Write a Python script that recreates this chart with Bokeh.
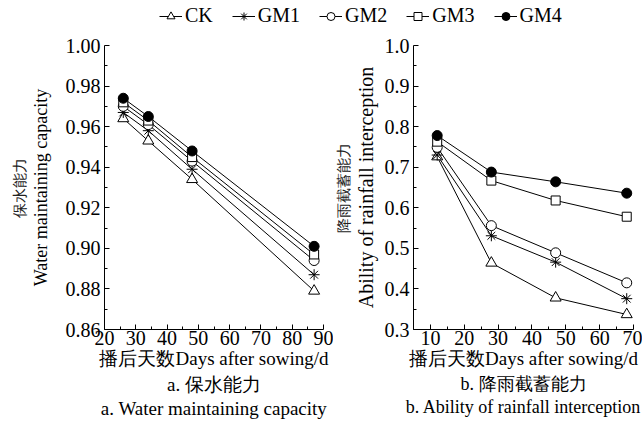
from bokeh.plotting import figure
from bokeh.layouts import column, row
from bokeh.models import FixedTicker, Title, Legend, LegendItem
from bokeh.embed import file_html
from bokeh.resources import INLINE

# ---------------- data ----------------
series = ["CK", "GM1", "GM2", "GM3", "GM4"]

days_a = [26, 34, 48, 87]
water_ck = [0.964, 0.953, 0.934, 0.879]
water_gm1 = [0.967, 0.958, 0.939, 0.887]
water_gm2 = [0.970, 0.961, 0.943, 0.894]
water_gm3 = [0.972, 0.963, 0.945, 0.897]
water_gm4 = [0.974, 0.965, 0.948, 0.901]

days_b = [12, 28, 47, 68]
rain_ck = [0.726, 0.464, 0.378, 0.337]
rain_gm1 = [0.730, 0.531, 0.466, 0.376]
rain_gm2 = [0.749, 0.556, 0.489, 0.415]
rain_gm3 = [0.763, 0.667, 0.618, 0.578]
rain_gm4 = [0.778, 0.688, 0.664, 0.636]

a_x_ticks = [20, 30, 40, 50, 60, 70, 80, 90]
a_x_minor = [25, 35, 45, 55, 65, 75, 85]
a_y_ticks = [0.86, 0.88, 0.90, 0.92, 0.94, 0.96, 0.98, 1.00]
a_y_labels = ["0.86", "0.88", "0.90", "0.92", "0.94", "0.96", "0.98", "1.00"]
a_y_minor = [0.87, 0.89, 0.91, 0.93, 0.95, 0.97, 0.99]

b_x_ticks = [10, 20, 30, 40, 50, 60, 70]
b_x_minor = [5, 15, 25, 35, 45, 55, 65]
b_y_ticks = [0.3, 0.4, 0.5, 0.6, 0.7, 0.8, 0.9, 1.0]
b_y_labels = ["0.3", "0.4", "0.5", "0.6", "0.7", "0.8", "0.9", "1.0"]
b_y_minor = [0.35, 0.45, 0.55, 0.65, 0.75, 0.85, 0.95]

x_label = "播后天数Days after sowing/d"
a_y_label_en = "Water maintaining capacity"
a_y_label_zh = "保水能力"
b_y_label_en = "Ability of rainfall interception"
b_y_label_zh = "降雨截蓄能力"
a_caps = ["a. 保水能力", "a. Water maintaining capacity"]
b_caps = ["b. 降雨截蓄能力", "b. Ability of rainfall interception"]

FONT = "Liberation Serif"
markers = {"CK": ("triangle", "white", 11), "GM1": ("asterisk", "white", 11),
           "GM2": ("circle", "white", 10), "GM3": ("square", "white", 9),
           "GM4": ("circle", "black", 10)}


def make_panel(width, left, right, xr, yr, xt, xm, yt, ylab, ym, ylab_en,
               ylab_zh, xs, ys_list, caps, cap_size, ylab_size, ylab_standoff):
    p = figure(width=width, height=396, x_range=xr, y_range=yr,
               toolbar_location=None, output_backend="svg",
               min_border_left=left, min_border_right=right,
               min_border_top=15, min_border_bottom=97)
    p.outline_line_color = None
    p.grid.visible = False
    p.background_fill_color = None
    p.border_fill_color = None
    p.xaxis.ticker = FixedTicker(ticks=xt, minor_ticks=xm)
    p.yaxis.ticker = FixedTicker(ticks=yt, minor_ticks=ym)
    p.yaxis.major_label_overrides = {t: l for t, l in zip(yt, ylab)}
    for ax in (p.xaxis[0], p.yaxis[0]):
        ax.major_tick_in = 5
        ax.major_tick_out = 0
        ax.minor_tick_in = 3
        ax.minor_tick_out = 0
        ax.axis_line_color = "black"
        ax.major_tick_line_color = "black"
        ax.minor_tick_line_color = "black"
        ax.major_label_text_font = FONT
        ax.major_label_text_font_size = "20px"
        ax.major_label_text_color = "black"
        ax.axis_label_text_font = FONT
        ax.axis_label_text_font_style = "normal"
        ax.axis_label_text_color = "black"
    p.xaxis.axis_label_text_font_size = "19px"
    p.yaxis.axis_label_text_font_size = ylab_size
    p.xaxis.axis_label = x_label
    p.xaxis.axis_label_standoff = 0
    p.xaxis.major_label_standoff = 1
    p.yaxis.major_label_standoff = 4
    p.yaxis.axis_label = ylab_en
    p.yaxis.axis_label_standoff = ylab_standoff
    p.add_layout(Title(text=ylab_zh, align="center", offset=-24,
                       text_font=FONT, text_font_size="15px",
                       text_font_style="normal", text_color="#222222",
                       standoff=0), "left")
    for name, ys in zip(series, ys_list):
        p.line(xs, ys, line_color="black", line_width=1)
    for name, ys in zip(series, ys_list):
        mk, fc, sz = markers[name]
        p.scatter(xs, ys, marker=mk, size=sz, line_color="black",
                  fill_color=fc, line_width=1)
    for c in caps:
        p.add_layout(Title(text=c, align="center", text_font=FONT,
                           text_font_size=cap_size, text_font_style="normal",
                           text_color="black", standoff=1), "below")
    return p


pa = make_panel(333, 104, 10, (20, 90), (0.86, 1.00), a_x_ticks, a_x_minor,
                a_y_ticks, a_y_labels, a_y_minor, a_y_label_en, a_y_label_zh,
                days_a, [water_ck, water_gm1, water_gm2, water_gm3, water_gm4],
                a_caps, "19px", "18px", 12)
pb = make_panel(309, 79, 9, (5, 70), (0.3, 1.0), b_x_ticks, b_x_minor,
                b_y_ticks, b_y_labels, b_y_minor, b_y_label_en, b_y_label_zh,
                days_b, [rain_ck, rain_gm1, rain_gm2, rain_gm3, rain_gm4],
                b_caps, "18px", "20px", 5)

leg = figure(width=642, height=30, x_range=(0, 1), y_range=(0, 1),
             toolbar_location=None, output_backend="svg", min_border=0)
leg.axis.visible = False
leg.grid.visible = False
leg.outline_line_color = None
items = []
for name in series:
    mk, fc, sz = markers[name]
    lr = leg.line([-5, -4], [-5, -5], line_color="black", line_width=1)
    sr = leg.scatter([-5], [-5], marker=mk, size=sz, line_color="black",
                     fill_color=fc, line_width=1)
    items.append(LegendItem(label=name, renderers=[lr, sr]))
legend = Legend(items=items, orientation="horizontal", location=(159, 3),
                glyph_width=23, glyph_height=20, label_standoff=3, spacing=19,
                padding=0, margin=0, border_line_color=None,
                background_fill_alpha=0, label_text_font=FONT,
                label_text_font_size="20px", label_text_color="black")
leg.add_layout(legend, "center")

layout = column(leg, row(pa, pb))
open("out.html", "w").write(file_html(layout, INLINE))
